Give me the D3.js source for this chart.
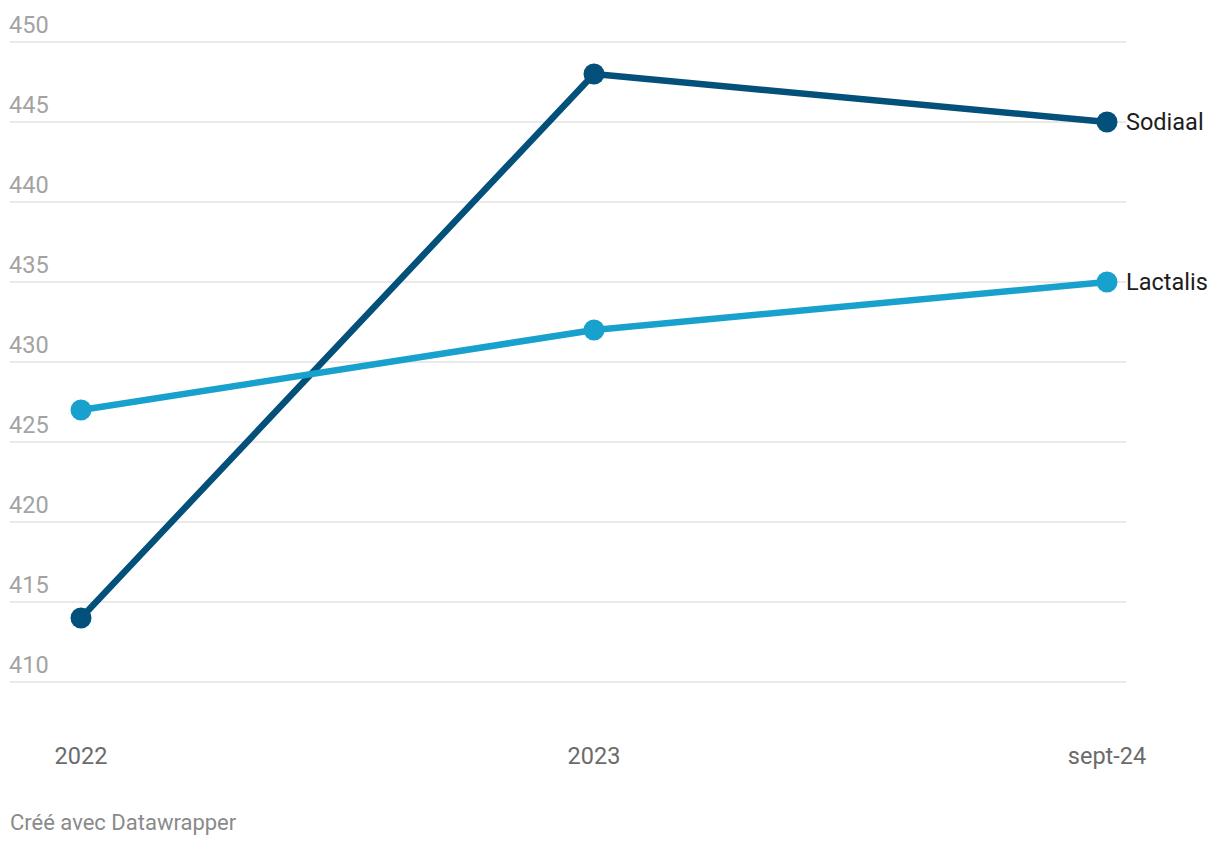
<!DOCTYPE html>
<html lang="fr">
<head>
    <meta charset="utf-8"/>
    <title>Sodiaal / Lactalis</title>
    <script src="https://d3js.org/d3.v7.min.js"></script>
    <style>
        body { margin: 0; background: #fff; font-family: Roboto, sans-serif; }
    </style>
</head>
<body>
<svg width="1220" height="846"></svg>

<script type="text/javascript">

    // données
    const periodes = ["2022", "2023", "sept-24"];
    const sodiaal = [414, 448, 445];
    const lactalis = [427, 432, 435];
    const yTicks = [410, 415, 420, 425, 430, 435, 440, 445, 450];

    const series = [
        {nom: "Sodiaal", valeurs: sodiaal, couleur: "#03507b"},
        {nom: "Lactalis", valeurs: lactalis, couleur: "#18a1cd"}
    ];

    const svg = d3.select("svg");

    let x = d3.scalePoint().domain(periodes).range([81, 1107]);
    let y = d3.scaleLinear().domain([410, 450]).range([682, 42]);

    // grille + étiquettes de l'axe Y
    let grille = svg.append("g");
    grille.selectAll("line")
        .data(yTicks)
        .join("line")
        .attr("x1", 10).attr("x2", 1126)
        .attr("y1", d => y(d)).attr("y2", d => y(d))
        .attr("stroke", "#e2e2e2")
        .attr("stroke-width", 1.5);

    grille.selectAll("text")
        .data(yTicks)
        .join("text")
        .attr("x", 9)
        .attr("y", d => y(d) - 9)
        .attr("fill", "#a3a3a3")
        .attr("font-size", 23.5)
        .text(d => d);

    // axe X
    svg.append("g")
        .selectAll("text")
        .data(periodes)
        .join("text")
        .attr("x", d => x(d))
        .attr("y", 764)
        .attr("text-anchor", "middle")
        .attr("fill", "#6b6b6b")
        .attr("font-size", 23.5)
        .text(d => d);

    let line = d3.line()
        .x((d, i) => x(periodes[i]))
        .y(d => y(d));

    series.forEach(function (s) {
        let g = svg.append("g");
        g.append("path")
            .attr("d", line(s.valeurs))
            .attr("fill", "none")
            .attr("stroke", s.couleur)
            .attr("stroke-width", 6.5)
            .attr("stroke-linejoin", "round");

        g.selectAll("circle")
            .data(s.valeurs)
            .join("circle")
            .attr("cx", (d, i) => x(periodes[i]))
            .attr("cy", d => y(d))
            .attr("r", 10.5)
            .attr("fill", s.couleur);

        let last = s.valeurs[s.valeurs.length - 1];
        g.append("text")
            .attr("x", x(periodes[periodes.length - 1]) + 19)
            .attr("y", y(last))
            .attr("dy", "0.35em")
            .attr("fill", "#1d1d1d")
            .attr("font-size", 23.5)
            .text(s.nom);
    });

    // source
    svg.append("text")
        .attr("x", 10)
        .attr("y", 830)
        .attr("fill", "#8a8a8a")
        .attr("font-size", 22)
        .text("Créé avec Datawrapper");

</script>
</body>
</html>
